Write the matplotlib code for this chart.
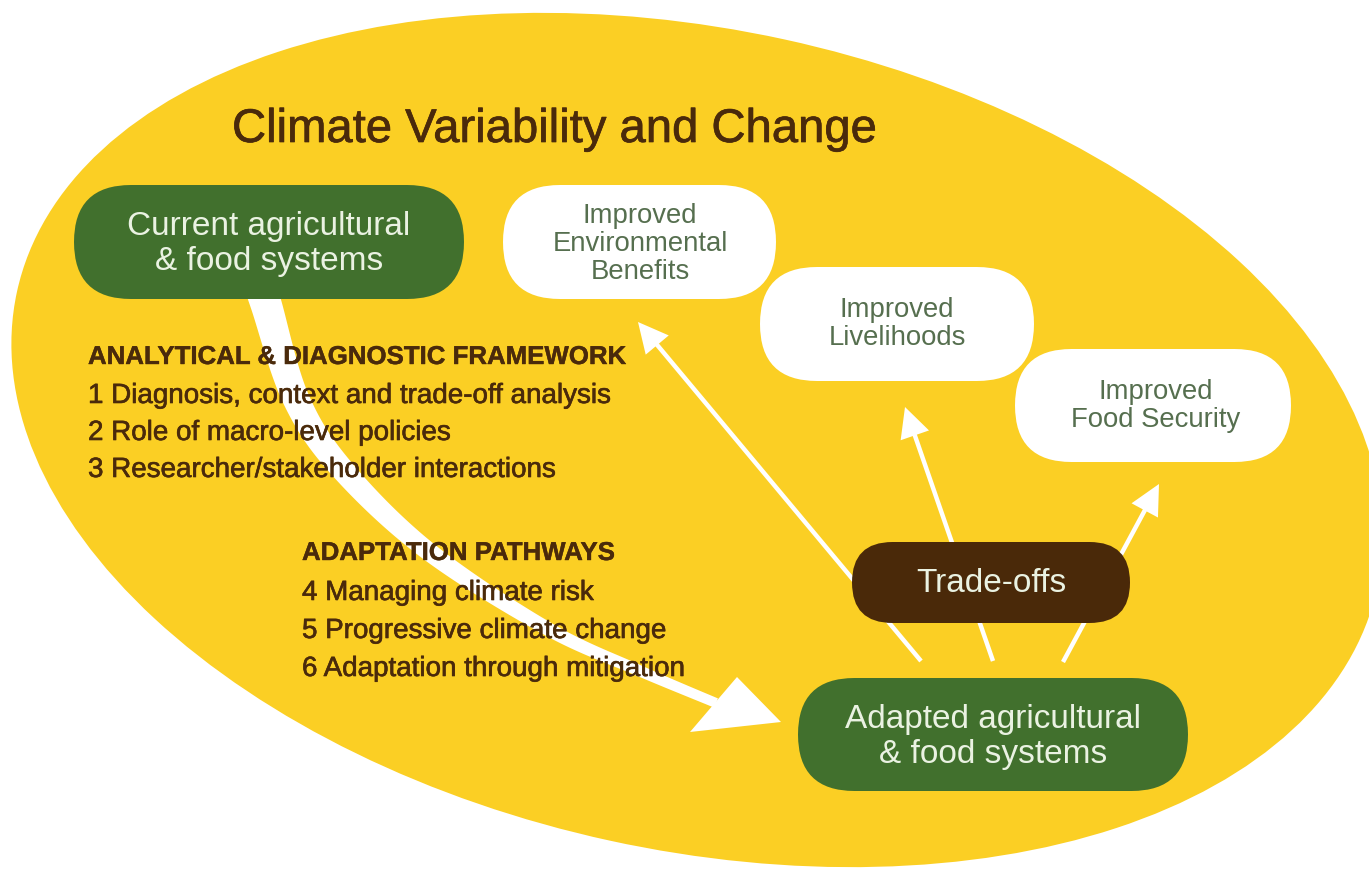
import numpy as np
import matplotlib
matplotlib.use("Agg")
import matplotlib.pyplot as plt
import matplotlib.patheffects as pe
from matplotlib.patches import Ellipse, FancyBboxPatch, Polygon

# ---------------- content ----------------
title = "Climate Variability and Change"
current_label = "Current agricultural\n& food systems"
adapted_label = "Adapted agricultural\n& food systems"
tradeoff_label = "Trade-offs"
outcome_labels = ["Improved\nEnvironmental\nBenefits",
                  "Improved\nLivelihoods",
                  "Improved\nFood Security"]
framework_header = "ANALYTICAL & DIAGNOSTIC FRAMEWORK"
framework_items = ["1 Diagnosis, context and trade-off analysis",
                   "2 Role of macro-level policies",
                   "3 Researcher/stakeholder interactions"]
pathway_header = "ADAPTATION PATHWAYS"
pathway_items = ["4 Managing climate risk",
                 "5 Progressive climate change",
                 "6 Adaptation through mitigation"]

# ---------------- style ----------------
YELLOW = "#FBCF24"
GREEN = "#41702D"
BROWN = "#4A2909"
TEXT_BROWN = "#4A2A0B"
WHITE = "#FFFFFF"
BOX_TEXT_LIGHT = "#EAF2E2"
BOX_TEXT_GREY = "#566F4F"
FONT = ["Liberation Sans", "Arial", "DejaVu Sans"]

W, H = 1369, 870
fig = plt.figure(figsize=(W / 100, H / 100), dpi=100)
ax = fig.add_axes([0, 0, 1, 1])
ax.set_xlim(0, W)
ax.set_ylim(H, 0)
ax.axis("off")

# big ellipse
ax.add_patch(Ellipse((697, 441), 1392, 820, angle=12.3, facecolor=YELLOW,
                     edgecolor="none", zorder=1))


def pill(x0, y0, x1, y1, color, z=5):
    h = y1 - y0
    p = FancyBboxPatch((x0, y0), x1 - x0, h,
                       boxstyle=f"round,pad=0,rounding_size={h / 2}",
                       facecolor=color, edgecolor="none", zorder=z)
    ax.add_patch(p)


def catmull_rom(pts, n=30):
    pts = np.asarray(pts, float)
    P = np.vstack([pts[0], pts, pts[-1]])
    out = []
    for i in range(1, len(P) - 2):
        p0, p1, p2, p3 = P[i - 1], P[i], P[i + 1], P[i + 2]
        t = np.linspace(0, 1, n, endpoint=False)[:, None]
        c = 0.5 * ((2 * p1) + (-p0 + p2) * t + (2 * p0 - 5 * p1 + 4 * p2 - p3) * t ** 2
                   + (-p0 + 3 * p1 - 3 * p2 + p3) * t ** 3)
        out.append(c)
    out.append(pts[-1][None, :])
    return np.vstack(out)


# ---------------- curved white arrow ----------------
center_pts = [(255, 270), (266, 305), (296, 400), (342, 470), (428, 552),
              (548, 630), (640, 672), (716, 704)]
curve = catmull_rom(center_pts)
seg = np.diff(curve, axis=0)
arc = np.concatenate([[0], np.cumsum(np.hypot(seg[:, 0], seg[:, 1]))])
frac = arc / arc[-1]
width = 10 + 23 * (1 - frac) ** 1.4
tang = np.gradient(curve, axis=0)
tang /= np.hypot(tang[:, 0], tang[:, 1])[:, None]
norm = np.stack([-tang[:, 1], tang[:, 0]], axis=1)
left = curve + norm * (width[:, None] / 2)
right = curve - norm * (width[:, None] / 2)
ax.add_patch(Polygon(np.vstack([left, right[::-1]]), closed=True,
                     facecolor=WHITE, edgecolor="none", zorder=2))
ax.add_patch(Polygon([(737, 678), (690, 733), (781, 723)], closed=True,
                     facecolor=WHITE, edgecolor="none", zorder=2))

# ---------------- straight arrows ----------------
arrow_starts = [(921, 662), (993, 662), (1063, 663)]
arrow_tips = [(638, 323), (905, 408), (1159, 485)]
for (sx, sy), (tx, ty) in zip(arrow_starts, arrow_tips):
    d = np.array([tx - sx, ty - sy], float)
    L = np.hypot(*d)
    u = d / L
    nrm = np.array([-u[1], u[0]])
    head_len, head_half = 30, 15
    base = np.array([tx, ty]) - u * head_len
    ax.plot([sx, base[0] + u[0] * 2], [sy, base[1] + u[1] * 2], color=WHITE,
            lw=3.2, solid_capstyle="butt", zorder=3)
    ax.add_patch(Polygon([(tx, ty), base + nrm * head_half, base - nrm * head_half],
                         closed=True, facecolor=WHITE, edgecolor="none", zorder=3))

# ---------------- boxes ----------------
pill(74, 186, 464, 300, GREEN)
pill(798, 679, 1188, 792, GREEN)
pill(852, 543, 1130, 624, BROWN)
outcome_boxes = [(503, 186, 776, 300), (760, 268, 1034, 382), (1015, 350, 1291, 463)]
for (x0, y0, x1, y1) in outcome_boxes:
    pill(x0, y0, x1, y1, WHITE)

# ---------------- texts ----------------
def heavy(color, w=0.4):
    return [pe.withStroke(linewidth=w, foreground=color)]


ax.text(232, 143, title, fontsize=34, color=TEXT_BROWN, family=FONT,
        ha="left", va="baseline", zorder=10, path_effects=heavy(TEXT_BROWN, 0.5))

ax.text(269, 244, current_label, fontsize=24, color=BOX_TEXT_LIGHT, family=FONT,
        ha="center", va="center", multialignment="center", linespacing=1.16, zorder=10)
ax.text(993, 737, adapted_label, fontsize=24, color=BOX_TEXT_LIGHT, family=FONT,
        ha="center", va="center", multialignment="center", linespacing=1.16, zorder=10)
ax.text(991, 584, tradeoff_label, fontsize=24, color=BOX_TEXT_LIGHT, family=FONT,
        ha="center", va="center", zorder=10)

outcome_centers = [(640, 244), (897, 324), (1156, 406)]
for lab, (cx, cy) in zip(outcome_labels, outcome_centers):
    ax.text(cx, cy, lab, fontsize=19.8, color=BOX_TEXT_GREY, family=FONT,
            ha="center", va="center", multialignment="center", linespacing=1.1,
            zorder=10)

ax.text(88, 365, framework_header, fontsize=18.6, color=TEXT_BROWN, family=FONT,
        weight="bold", ha="left", va="baseline", zorder=10,
        path_effects=heavy(TEXT_BROWN, 0.3))
for i, item in enumerate(framework_items):
    ax.text(88, 404 + 37 * i, item, fontsize=20, color=TEXT_BROWN, family=FONT,
            ha="left", va="baseline", zorder=10, path_effects=heavy(TEXT_BROWN, 0.45))

ax.text(302, 561, pathway_header, fontsize=18.6, color=TEXT_BROWN, family=FONT,
        weight="bold", ha="left", va="baseline", zorder=10,
        path_effects=heavy(TEXT_BROWN, 0.3))
for i, item in enumerate(pathway_items):
    ax.text(302, 601 + 38 * i, item, fontsize=20, color=TEXT_BROWN, family=FONT,
            ha="left", va="baseline", zorder=10, path_effects=heavy(TEXT_BROWN, 0.45))

fig.savefig("out.png", dpi=100, facecolor="white")
